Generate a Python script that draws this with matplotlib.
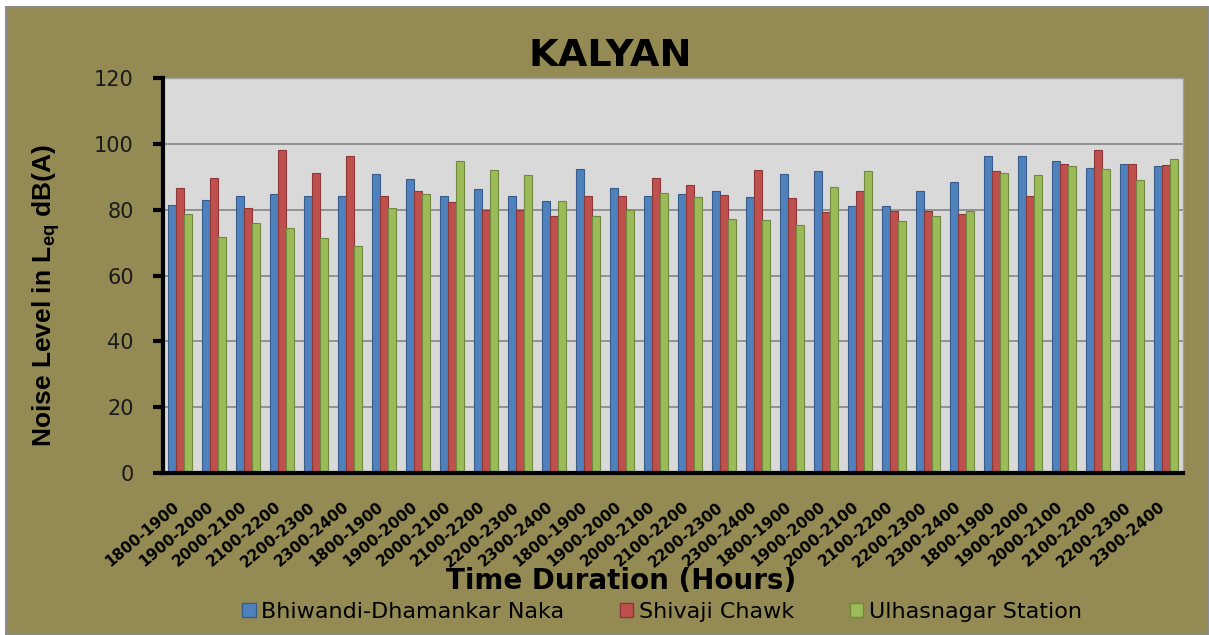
import numpy as np
import matplotlib
matplotlib.use("Agg")
import matplotlib.pyplot as plt
from matplotlib.patches import Rectangle, Patch
from matplotlib.transforms import ScaledTranslation

plt.rcParams['font.family'] = ['DejaVu Sans']
plt.rcParams['mathtext.fontset'] = 'custom'
plt.rcParams['mathtext.bf'] = 'Liberation Sans:bold'
plt.rcParams['mathtext.rm'] = 'Liberation Sans'

# --- Datos ---
periodos = ["1800-1900", "1900-2000", "2000-2100", "2100-2200", "2200-2300", "2300-2400"]
etiquetas = periodos * 5

bhiwandi = [81.5, 83.0, 84.3, 84.7, 84.3, 84.3,
            90.8, 89.3, 84.3, 86.2, 84.3, 82.6,
            92.4, 86.6, 84.3, 84.7, 85.8, 83.8,
            90.8, 91.6, 81.1, 81.1, 85.8, 88.5,
            96.3, 96.3, 94.8, 92.8, 94.0, 93.2]
shivaji = [86.6, 89.6, 80.4, 98.2, 91.1, 96.3,
           84.3, 85.8, 82.2, 80.0, 80.0, 78.0,
           84.3, 84.3, 89.6, 87.4, 84.6, 92.1,
           83.4, 79.2, 85.8, 79.5, 79.5, 78.8,
           91.6, 84.3, 94.0, 98.2, 94.0, 93.6]
ulhasnagar = [78.8, 71.8, 76.0, 74.5, 71.4, 69.1,
              80.4, 84.7, 94.7, 92.1, 90.4, 82.6,
              78.0, 79.9, 85.0, 83.8, 77.2, 76.8,
              75.2, 87.0, 91.6, 76.5, 78.0, 79.5,
              91.2, 90.4, 93.2, 92.4, 88.9, 95.5]

series = ["Bhiwandi-Dhamankar Naka", "Shivaji Chawk", "Ulhasnagar Station"]
colores = ["#4F81BD", "#C0504D", "#9BBB59"]
bordes = ["#385D8A", "#8C3836", "#71893F"]

olivo = "#948A54"

# --- Figura ---
fig = plt.figure(figsize=(12.09, 6.35), dpi=100, facecolor="white")
fondo = Rectangle((6 / 1209, 0), 1 - 6 / 1209, 1 - 7 / 635, transform=fig.transFigure,
                  facecolor=olivo, edgecolor="#8C8C8C", linewidth=1.5, zorder=-10)
fig.patches.append(fondo)

ax = fig.add_axes([163 / 1209, 1 - 473 / 635, (1183 - 163) / 1209, (473 - 78) / 635])
ax.set_facecolor("#D9D9D9")

x = np.arange(len(etiquetas))
ancho = 0.235
for i, (vals, c, b) in enumerate(zip([bhiwandi, shivaji, ulhasnagar], colores, bordes)):
    ax.bar(x + (i - 1) * ancho, vals, width=ancho, color=c, edgecolor=b,
           linewidth=0.8, label=series[i], zorder=2)

ax.set_xlim(-0.5, len(etiquetas) - 0.5)
ax.set_ylim(0, 120)
ax.set_yticks(range(0, 121, 20))
ax.yaxis.grid(True, color="#8C8C8C", linewidth=1.3, zorder=1)
ax.set_axisbelow(True)

ax.set_xticks(x)
ax.set_xticklabels(etiquetas, rotation=40, ha="right", fontsize=11, fontweight="bold")
ax.tick_params(axis="x", length=0, pad=19)
desplazo = ScaledTranslation(2 / 100, 0, fig.dpi_scale_trans)
for lab in ax.get_xticklabels():
    lab.set_transform(lab.get_transform() + desplazo)
ax.tick_params(axis="y", direction="out", length=7, width=3, labelsize=15, pad=14,
               labelcolor="#1A1A1A")

for lado in ["left", "bottom"]:
    ax.spines[lado].set_linewidth(3)
    ax.spines[lado].set_color("black")
    ax.spines[lado].set_zorder(3)
for lado in ["top", "right"]:
    ax.spines[lado].set_linewidth(1)
    ax.spines[lado].set_color("#A0A0A0")

fig.text(610 / 1209, 1 - 56 / 635, "KALYAN", ha="center", va="center",
         fontsize=27.5, fontweight="bold")
fig.text(46 / 1209, 1 - 295 / 635, r"Noise Level in L$_{\mathbf{eq}}$ dB(A)",
         rotation=90, ha="center", va="center", fontsize=19, fontweight="bold",
         family="Liberation Sans")
fig.text(621 / 1209, 1 - 581 / 635, "Time Duration (Hours)", ha="center", va="center",
         fontsize=20, fontweight="bold")

manejadores = [Patch(facecolor=c, edgecolor=b, linewidth=1) for c, b in zip(colores, bordes)]
fig.legend(manejadores, series, loc="center", bbox_to_anchor=(662 / 1209, 1 - 612 / 635),
           ncol=3, frameon=False, fontsize=16, handlelength=0.6, handleheight=0.6,
           handletextpad=0.25, columnspacing=2.5)

fig.savefig("out.png", dpi=100, facecolor=fig.get_facecolor())
